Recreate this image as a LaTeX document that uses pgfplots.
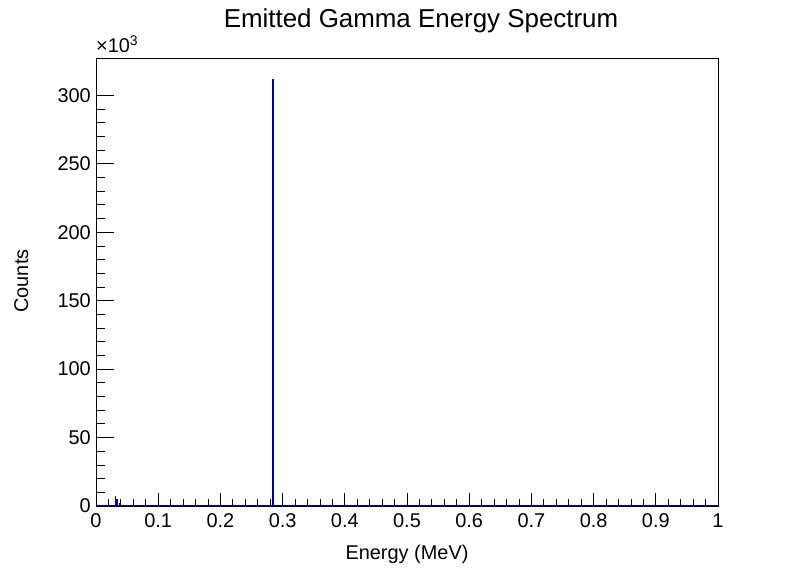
\documentclass[border=0pt]{standalone}
\usepackage{pgfplots}
\pgfplotsset{compat=1.18}
\usepackage{fontspec}
\setmainfont{Liberation Sans}
\definecolor{rootblue}{rgb}{0,0,0.6}
\begin{document}
\begin{tikzpicture}[x=1bp,y=1bp]
\path[use as bounding box] (0,0) rectangle (798,575);
\begin{axis}[
  at={(96bp,69bp)}, anchor=south west,
  scale only axis, width=622bp, height=448bp,
  xmin=0, xmax=1, ymin=0, ymax=327285,
  axis line style={line width=0.8bp},
  tick pos=left, tick align=inside,
  xtick={0,0.1,...,1}, minor x tick num=4,
  ytick={0,50000,100000,150000,200000,250000,300000}, minor y tick num=4,
  xtick style={line width=0.8bp, black, /pgfplots/major tick length=13bp, /pgfplots/minor tick length=6.5bp},
  ytick style={line width=0.8bp, black, /pgfplots/major tick length=18.5bp, /pgfplots/minor tick length=9.3bp},
  scaled y ticks=base 10:-3,
  ytick scale label code/.code={},
  /pgf/number format/assume math mode=true,
  xticklabel style={font=\fontsize{20}{24}\selectfont, anchor=base, inner sep=0pt, yshift=-22bp,
    /pgf/number format/.cd, fixed, precision=1},
  yticklabel style={font=\fontsize{20}{24}\selectfont, anchor=east, inner sep=0pt, xshift=-5bp},
  clip=false,
]
\addplot[const plot mark left, rootblue, line width=1bp] coordinates {
  (0,0) (0.003,700) (0.004,0)
  (0.031,7300) (0.032,0) (0.033,4400) (0.034,0)
  (0.037,1500) (0.038,0)
  (0.284,311700) (0.285,0) (1,0)
};
\end{axis}
\node[anchor=base, font=\fontsize{26}{30}\selectfont] at (421,547) {Emitted Gamma Energy Spectrum};
\node[anchor=base, font=\fontsize{20}{24}\selectfont] at (407,15) {Energy (MeV)};
\node[anchor=base, rotate=90, font=\fontsize{20}{24}\selectfont] at (28,294) {Counts};
\node[anchor=base west, inner sep=0pt, font=\fontsize{20}{24}\selectfont] at (96,522) {×10\textsuperscript{3}};
\end{tikzpicture}
\end{document}
